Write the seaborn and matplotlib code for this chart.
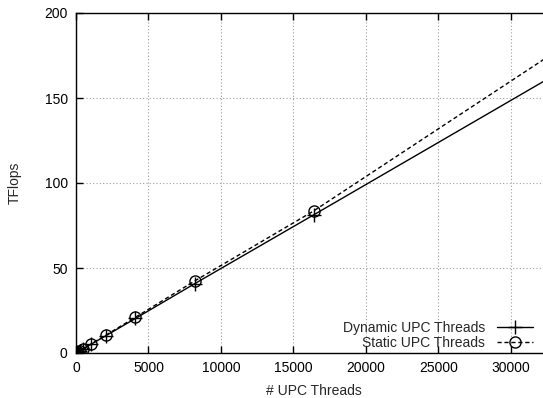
import matplotlib
matplotlib.use("Agg")
import matplotlib.pyplot as plt
import seaborn as sns
import pandas as pd

# UPC thread counts (powers of two) and achieved performance in TFlops
threads = [1, 2, 4, 8, 16, 32, 64, 128, 256, 512, 1024, 2048, 4096, 8192, 16384, 32768]
dynamic_tflops = [0.005, 0.01, 0.02, 0.04, 0.08, 0.16, 0.32, 0.64, 1.27, 2.54,
                  5.07, 10.1, 20.3, 40.8, 81.2, 162.3]
static_tflops = [0.005, 0.01, 0.021, 0.042, 0.083, 0.166, 0.33, 0.66, 1.31, 2.62,
                 5.2, 10.45, 21.0, 42.4, 83.5, 175.5]

x_ticks = [0, 5000, 10000, 15000, 20000, 25000, 30000]
y_ticks = [0, 50, 100, 150, 200]

dyn = pd.DataFrame({"threads": threads, "tflops": dynamic_tflops})
sta = pd.DataFrame({"threads": threads, "tflops": static_tflops})

sns.set_style("white")
plt.rcParams["font.family"] = ["Liberation Sans", "DejaVu Sans"]
plt.rcParams["font.size"] = 10

W, H = 543, 398
fig = plt.figure(figsize=(W / 100, H / 100), dpi=100)
# plot frame spans 0..32768 threads; its right edge lies past the canvas
left, right, top, bottom = 76, 551, 13, 353
ax = fig.add_axes([left / W, (H - bottom) / H, (right - left) / W, (bottom - top) / H])

sns.lineplot(data=dyn, x="threads", y="tflops", ax=ax, color="black", lw=1,
             marker="+", markersize=10, mec="black", mew=1,
             label="Dynamic UPC Threads")
sns.lineplot(data=sta, x="threads", y="tflops", ax=ax, color="black", lw=1,
             dashes=False, linestyle=(0, (3, 2)), marker="o", markersize=8,
             mfc="none", mec="black", mew=1, label="Static UPC Threads")

ax.set_xlim(0, 32768)
ax.set_ylim(0, 200)
ax.set_xticks(x_ticks)
ax.set_yticks(y_ticks)
ax.grid(True, color="#a0a0a0", linestyle=(0, (1, 2)), linewidth=0.8)
for s in ax.spines.values():
    s.set_color("black")
    s.set_linewidth(1)
ax.tick_params(direction="in", length=5, width=1, top=True, right=True,
               bottom=True, left=True, labelsize=10, pad=6, colors="black")

ax.set_xlabel("# UPC Threads", fontsize=10, labelpad=6)
ax.set_ylabel("TFlops", fontsize=10, labelpad=16)

handles, labels = ax.get_legend_handles_labels()
ax.legend(handles, labels, loc="lower right", markerfirst=False, frameon=False,
          bbox_to_anchor=(533 / W, (H - 350) / H), bbox_transform=fig.transFigure,
          borderpad=0, borderaxespad=0, handlelength=2.6, handletextpad=0.85,
          labelspacing=0.1, fontsize=10)

fig.savefig("out.png", dpi=100)
